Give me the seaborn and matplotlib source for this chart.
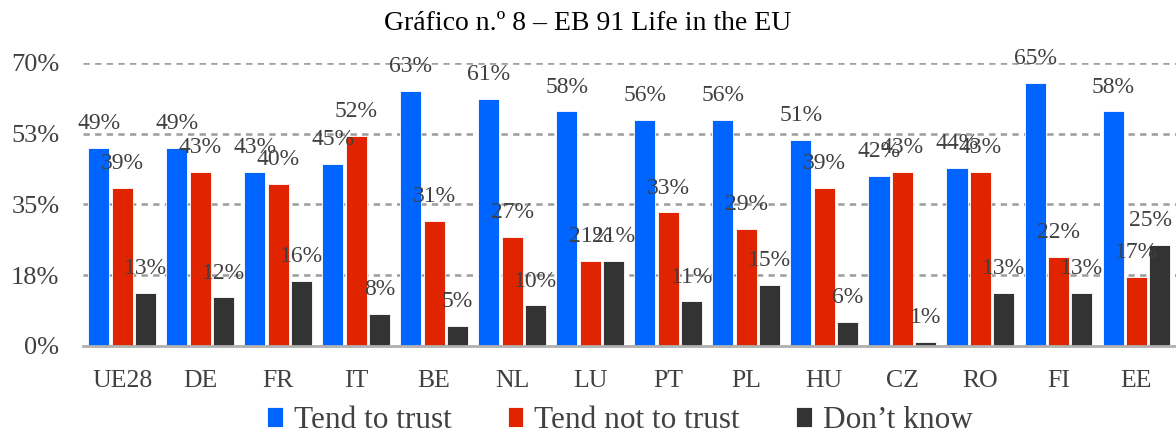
import pandas as pd
import matplotlib
matplotlib.use("Agg")
import matplotlib.pyplot as plt
import seaborn as sns

# EB 91 - confiança na UE por país
countries = ["UE28", "DE", "FR", "IT", "BE", "NL", "LU", "PT", "PL", "HU", "CZ", "RO", "FI", "EE"]
trust = [49, 49, 43, 45, 63, 61, 58, 56, 56, 51, 42, 44, 65, 58]
not_trust = [39, 43, 40, 52, 31, 27, 21, 33, 29, 39, 43, 43, 22, 17]
dont_know = [13, 12, 16, 8, 5, 10, 21, 11, 15, 6, 1, 13, 13, 25]
series = ["Tend to trust", "Tend not to trust", "Don’t know"]
yticks = [0, 17.5, 35, 52.5, 70]
ytick_labels = ["0%", "18%", "35%", "53%", "70%"]

colors = ["#0064FF", "#E02400", "#333333"]
txt = "#404040"

sns.set_style("white")
plt.rcParams["font.family"] = ["Liberation Serif", "DejaVu Serif"]

df = pd.DataFrame({"pais": countries, series[0]: trust, series[1]: not_trust, series[2]: dont_know})
df = df.melt(id_vars="pais", var_name="serie", value_name="valor")

fig = plt.figure(figsize=(11.76, 4.34), dpi=100)
ax = fig.add_axes([0.0706, 0.203, 0.929, 0.652])

sns.barplot(data=df, x="pais", y="valor", hue="serie", hue_order=series,
            palette=colors, saturation=1, width=0.9, gap=0.1,
            edgecolor="white", linewidth=0.6, ax=ax, legend=True)

for cont in ax.containers:
    labels = [f"{v:.0f}%" for v in cont.datavalues]
    anns = ax.bar_label(cont, labels=labels, padding=10, fontsize=17, color=txt)
# último rótulo encostado à margem direita
anns[-1].xyann = (-7, anns[-1].xyann[1])

ax.set_ylim(0, 70)
ax.set_yticks(yticks)
ax.set_yticklabels(ytick_labels, fontsize=19, color=txt)
ax.set_xlim(-0.5, len(countries) - 0.5)
ax.tick_params(axis="x", labelsize=18.5, colors=txt, length=0, pad=17)
ax.tick_params(axis="y", length=0, pad=17)
for y in yticks[1:]:
    ax.axhline(y, color="#A0A0A0", linestyle=(0, (2.4, 2.0)), linewidth=1.9, zorder=0)
for s in ["top", "right", "left"]:
    ax.spines[s].set_visible(False)
ax.spines["bottom"].set_color("#B0B0B0")
ax.spines["bottom"].set_linewidth(2)
ax.set_xlabel("")
ax.set_ylabel("")

fig.suptitle("Gráfico n.º 8 – EB 91 Life in the EU", y=0.975, fontsize=20, color="black")

handles, lbls = ax.get_legend_handles_labels()
ax.get_legend().remove()
fig.legend(handles, lbls, loc="center", bbox_to_anchor=(0.527, 0.032), ncol=3,
           frameon=False, fontsize=22.5, handlelength=0.5, handleheight=0.6,
           handletextpad=0.35, columnspacing=1.8, labelcolor=txt,
           borderpad=0, borderaxespad=0)

fig.savefig("out.png", dpi=100)
